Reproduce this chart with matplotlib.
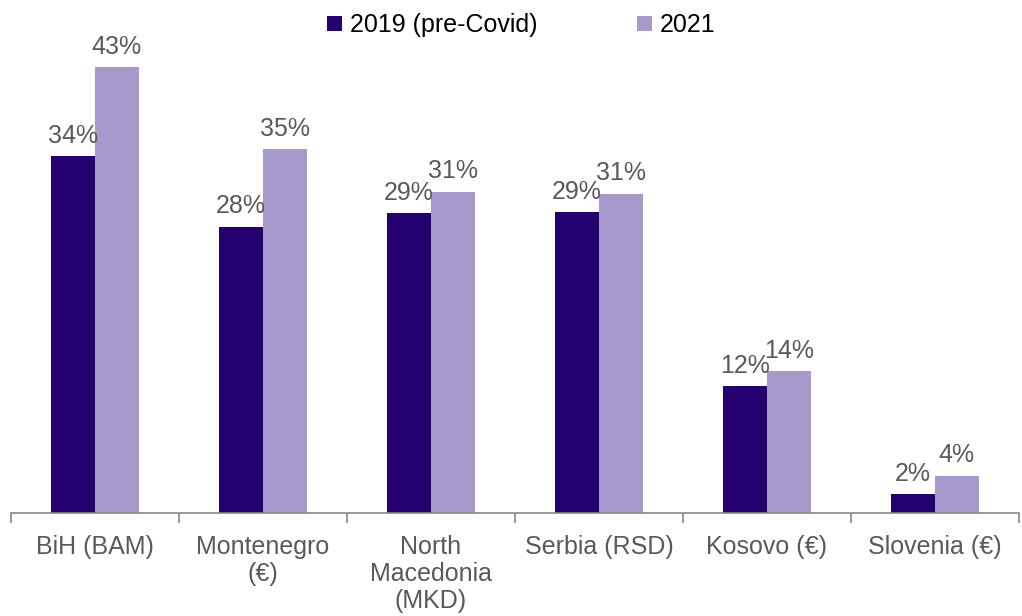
import matplotlib.pyplot as plt
import numpy as np

plt.rcParams['font.family'] = ['Liberation Sans', 'DejaVu Sans']

categories = ["BiH (BAM)", "Montenegro\n(€)", "North\nMacedonia\n(MKD)", "Serbia (RSD)", "Kosovo (€)", "Slovenia (€)"]
v2019 = [34.4, 27.6, 28.9, 29.0, 12.2, 1.8]
v2021 = [43.0, 35.1, 31.0, 30.8, 13.7, 3.6]

dark = "#250071"
light = "#A799CB"
grey = "#595959"

fig = plt.figure(figsize=(10.22, 6.16), dpi=100)
ax = fig.add_axes([11/1022, 1 - 513/616, 1008/1022, (513-36)/616])

x = np.arange(len(categories))
w = 0.26
b1 = ax.bar(x - w/2, v2019, w, color=dark, label="2019 (pre-Covid)")
b2 = ax.bar(x + w/2, v2021, w, color=light, label="2021")

for bars, vals in [(b1, v2019), (b2, v2021)]:
    for rect, v in zip(bars, vals):
        ax.annotate(f"{round(v)}%", (rect.get_x() + rect.get_width()/2, v),
                    xytext=(0, 6), textcoords="offset points",
                    ha="center", va="bottom", fontsize=18, color=grey)

ax.set_xlim(-0.5, len(categories) - 0.5)
ax.set_ylim(0, 46)
ax.set_yticks([])
for s in ["top", "right", "left"]:
    ax.spines[s].set_visible(False)
ax.spines["bottom"].set_color("#888888")
ax.spines["bottom"].set_linewidth(1.2)

ax.set_xticks(x)
ax.set_xticklabels(categories, fontsize=18, color=grey, linespacing=1.15)
ax.tick_params(axis="x", which="major", length=0, pad=16)
ax.set_xticks(np.arange(-0.5, len(categories)), minor=True)
ax.tick_params(axis="x", which="minor", length=7, color="#888888", width=1.2)

fig.legend(loc="upper center", bbox_to_anchor=(0.51, 1.015), ncol=2, frameon=False,
           fontsize=18, handlelength=0.6, handleheight=0.6, handletextpad=0.3,
           columnspacing=4.0, labelcolor="#000000")

fig.savefig("out.png", dpi=100)
